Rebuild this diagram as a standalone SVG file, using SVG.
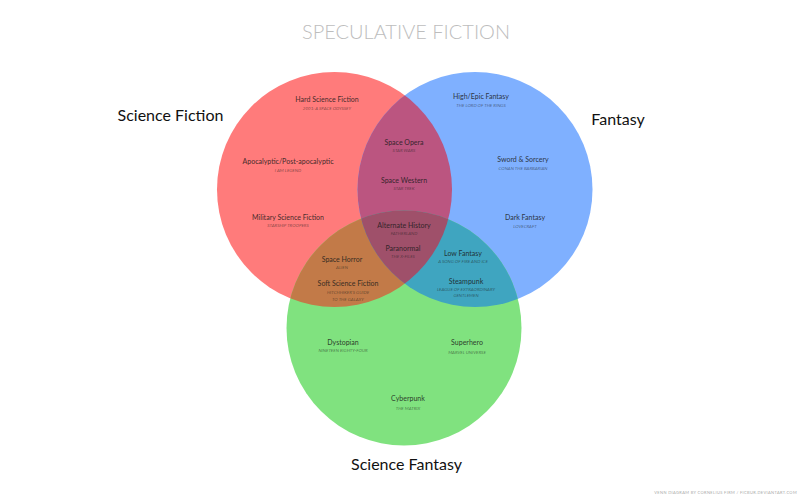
<svg xmlns="http://www.w3.org/2000/svg" width="800" height="500" viewBox="0 0 800 500">
<style>
text{font-family:Lato,"Open Sans","Liberation Sans",sans-serif;text-anchor:middle}
.t{font-size:7px;fill:#1a1a1a;fill-opacity:.82;font-weight:500}
.s{font-size:4.5px;font-style:italic;fill:#1a1a1a;fill-opacity:.55}
.c{font-size:16px;fill:#111}
.h{font-size:20px;fill:#bdbdbd;font-weight:300}
.f{font-size:4px;fill:#aaa;text-anchor:end;letter-spacing:.35px}
</style>
<defs>
<clipPath id="cr"><circle cx="334.5" cy="189.5" r="117.5"/></clipPath>
<clipPath id="cb"><circle cx="475" cy="189.5" r="117.5"/></clipPath>
<clipPath id="cg"><circle cx="404" cy="328" r="117.5"/></clipPath>
</defs>
<rect width="800" height="500" fill="#fff"/>
<text class="h" x="406" y="39">SPECULATIVE FICTION</text>
<g id="sets">
<circle id="sf" cx="334.5" cy="189.5" r="117.5" fill="#ff7b7b"/>
<circle id="fa" cx="475" cy="189.5" r="117.5" fill="#7fb0ff"/>
<circle id="sfa" cx="404" cy="328" r="117.5" fill="#80e27f"/>
<circle cx="475" cy="189.5" r="117.5" fill="#bb5580" clip-path="url(#cr)"/>
<circle cx="404" cy="328" r="117.5" fill="#c27a48" clip-path="url(#cr)"/>
<circle cx="404" cy="328" r="117.5" fill="#3fa5c0" clip-path="url(#cb)"/>
<g clip-path="url(#cr)"><circle cx="404" cy="328" r="117.5" fill="#9f506a" clip-path="url(#cb)"/></g>
</g>
<g id="set-labels">
<text class="c" x="170.5" y="121">Science Fiction</text>
<text class="c" x="618" y="125">Fantasy</text>
<text class="c" x="406.5" y="470">Science Fantasy</text>
</g>
<g id="hard-sf"><text class="t" x="327" y="101.5">Hard Science Fiction</text><text class="s" x="327" y="109.5">2001: A SPACE ODYSSEY</text></g>
<g id="apocalyptic"><text class="t" x="288" y="163.5">Apocalyptic/Post-apocalyptic</text><text class="s" x="288" y="171.5">I AM LEGEND</text></g>
<g id="military-sf"><text class="t" x="288" y="219.5">Military Science Fiction</text><text class="s" x="288" y="227">STARSHIP TROOPERS</text></g>
<g id="space-horror"><text class="t" x="342" y="261.5">Space Horror</text><text class="s" x="342" y="268.5">ALIEN</text></g>
<g id="soft-sf"><text class="t" x="348" y="285.5">Soft Science Fiction</text><text class="s" x="348" y="293.5">HITCHHIKER'S GUIDE</text><text class="s" x="348" y="300.5">TO THE GALAXY</text></g>
<g id="space-opera"><text class="t" x="404" y="144.5">Space Opera</text><text class="s" x="404" y="151.5">STAR WARS</text></g>
<g id="space-western"><text class="t" x="404" y="182.5">Space Western</text><text class="s" x="404" y="189.5">STAR TREK</text></g>
<g id="alternate-history"><text class="t" x="404" y="227.5">Alternate History</text><text class="s" x="404" y="234.5">FATHERLAND</text></g>
<g id="paranormal"><text class="t" x="403" y="250.5">Paranormal</text><text class="s" x="403" y="257.5">THE X-FILES</text></g>
<g id="high-fantasy"><text class="t" x="481" y="98.5">High/Epic Fantasy</text><text class="s" x="481" y="106.5">THE LORD OF THE RINGS</text></g>
<g id="sword-sorcery"><text class="t" x="523" y="161.5">Sword &amp; Sorcery</text><text class="s" x="523" y="169.5">CONAN THE BARBARIAN</text></g>
<g id="dark-fantasy"><text class="t" x="525" y="219.5">Dark Fantasy</text><text class="s" x="525" y="227.5">LOVECRAFT</text></g>
<g id="low-fantasy"><text class="t" x="463" y="255.5">Low Fantasy</text><text class="s" x="463" y="262.5">A SONG OF FIRE AND ICE</text></g>
<g id="steampunk"><text class="t" x="466" y="283.5">Steampunk</text><text class="s" x="466" y="290.5">LEAGUE OF EXTRAORDINARY</text><text class="s" x="466" y="297">GENTLEMEN</text></g>
<g id="dystopian"><text class="t" x="343" y="344.5">Dystopian</text><text class="s" x="343" y="352">NINETEEN EIGHTY-FOUR</text></g>
<g id="superhero"><text class="t" x="467" y="344.5">Superhero</text><text class="s" x="467" y="354">MARVEL UNIVERSE</text></g>
<g id="cyberpunk"><text class="t" x="408" y="400.5">Cyberpunk</text><text class="s" x="408" y="409.5">THE MATRIX</text></g>
<g id="connectors"/>
<text class="f" x="797" y="494">VENN DIAGRAM BY CORNELIUS FIRM / FICBUR.DEVIANTART.COM</text>
</svg>
